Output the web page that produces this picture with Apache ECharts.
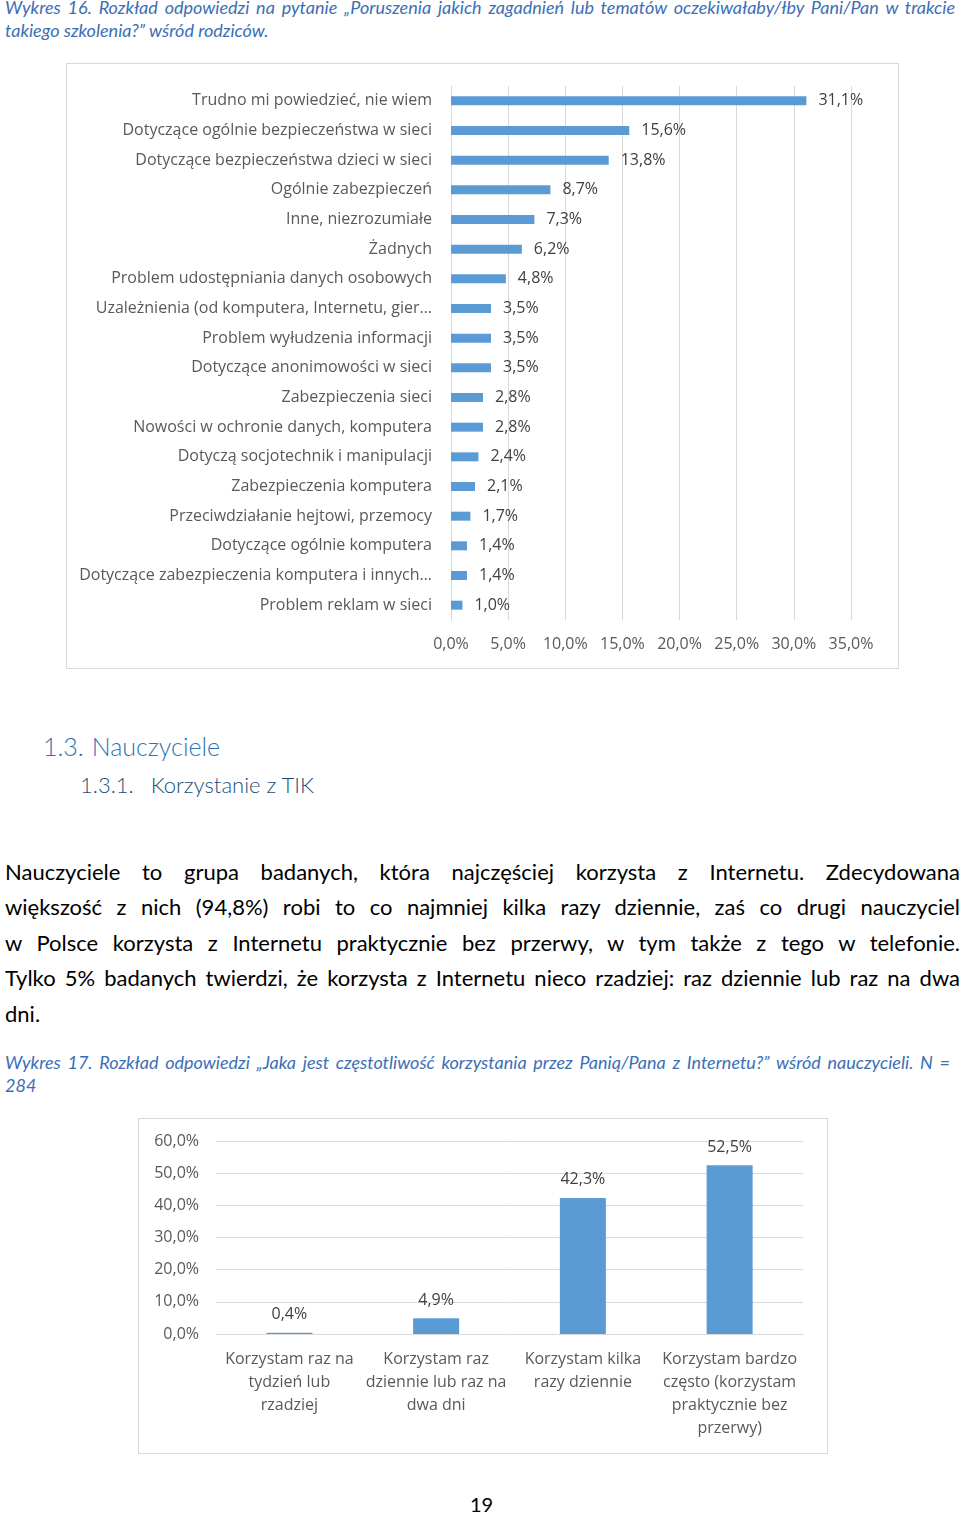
<!DOCTYPE html>
<html><head><meta charset="utf-8">
<script src="https://cdn.jsdelivr.net/npm/echarts@6/dist/echarts.min.js"></script>
<style>
html,body{margin:0;padding:0;background:#fff;width:960px;height:1515px;overflow:hidden;font-family:Lato,"Open Sans",sans-serif;}
.abs{position:absolute;white-space:nowrap;}
.cap{color:#3B6FB6;font-style:italic;font-size:18px;left:5px;}
.jl{left:5px;width:955px;text-align:justify;text-align-last:justify;font-size:22px;color:#000;}
.frame{position:absolute;border:1px solid #D9D9D9;box-sizing:border-box;}
</style></head><body>
<div class="abs cap" style="top:-4px;width:950px;text-align:justify;text-align-last:justify;">Wykres 16. Rozkład odpowiedzi na pytanie „Poruszenia jakich zagadnień lub tematów oczekiwałaby/łby Pani/Pan w  trakcie</div>
<div class="abs cap" style="top:19px;">takiego szkolenia?” wśród rodziców.</div>

<div id="c1" class="frame" style="left:66px;top:63px;width:833px;height:606px;"></div>

<div class="abs" style="left:43px;top:731px;font-size:25px;font-weight:300;color:#2E74B5;">1.3.<span style="display:inline-block;width:8px"></span>Nauczyciele</div>
<div class="abs" style="left:80px;top:771px;font-size:22px;font-weight:300;color:#1F4E79;">1.3.1.<span style="display:inline-block;width:17px"></span>Korzystanie z  TIK</div>

<div class="abs jl" style="top:858px;">Nauczyciele to grupa badanych, która najczęściej korzysta z Internetu. Zdecydowana</div>
<div class="abs jl" style="top:893px;">większość z nich (94,8%) robi to co najmniej kilka razy dziennie, zaś co drugi nauczyciel</div>
<div class="abs jl" style="top:929px;">w Polsce korzysta z Internetu praktycznie bez przerwy, w tym także z tego w telefonie.</div>
<div class="abs jl" style="top:964px;">Tylko 5% badanych twierdzi, że korzysta z  Internetu nieco rzadziej: raz dziennie lub raz na dwa</div>
<div class="abs" style="left:5px;top:1000px;font-size:22px;color:#000;">dni.</div>

<div class="abs cap" style="top:1051px;width:945px;text-align:justify;text-align-last:justify;">Wykres 17. Rozkład odpowiedzi „Jaka jest częstotliwość korzystania przez Panią/Pana z  Internetu?” wśród nauczycieli. N =</div>
<div class="abs cap" style="top:1074px;">284</div>

<div id="c2" class="frame" style="left:138px;top:1118px;width:690px;height:336px;"></div>

<div class="abs" style="left:470px;top:1492px;font-size:20px;color:#000;">19</div>

<script>
const cats1 = ["Trudno mi powiedzieć, nie wiem","Dotyczące ogólnie bezpieczeństwa w sieci","Dotyczące bezpieczeństwa dzieci w sieci","Ogólnie zabezpieczeń","Inne, niezrozumiałe","Żadnych","Problem udostępniania danych osobowych","Uzależnienia (od komputera, Internetu, gier…","Problem wyłudzenia informacji","Dotyczące anonimowości w sieci","Zabezpieczenia sieci","Nowości w ochronie danych, komputera","Dotyczą socjotechnik i manipulacji","Zabezpieczenia komputera","Przeciwdziałanie hejtowi, przemocy","Dotyczące ogólnie komputera","Dotyczące zabezpieczenia komputera i innych…","Problem reklam w sieci"];
const vals1 = [31.1,15.6,13.8,8.7,7.3,6.2,4.8,3.5,3.5,3.5,2.8,2.8,2.4,2.1,1.7,1.4,1.4,1.0];
const ticks1 = {min:0,max:35,interval:5};

const cats2 = ["Korzystam raz na\ntydzień lub\nrzadziej","Korzystam raz\ndziennie lub raz na\ndwa dni","Korzystam kilka\nrazy dziennie","Korzystam bardzo\nczęsto (korzystam\npraktycznie bez\nprzerwy)"];
const vals2 = [0.4,4.9,42.3,52.5];
const ticks2 = {min:0,max:60,interval:10};

const FONT = '"Open Sans", Lato, sans-serif';
const fmt = v => v.toFixed(1).replace('.', ',') + '%';
const BLUE = '#5B9BD5';

const ch1 = echarts.init(document.getElementById('c1'), null, {renderer:'canvas'});
ch1.setOption({
  animation:false,
  grid:{left:384,right:47,top:22,bottom:48,containLabel:false},
  xAxis:{type:'value',min:ticks1.min,max:ticks1.max,interval:ticks1.interval,
    axisLine:{show:false},axisTick:{show:false},
    splitLine:{show:true,lineStyle:{color:'#D9D9D9',width:1}},
    axisLabel:{color:'#595959',fontSize:16,fontFamily:FONT,margin:16,formatter:fmt}},
  yAxis:{type:'category',data:cats1,inverse:true,
    axisLine:{show:true,lineStyle:{color:'#D9D9D9'}},axisTick:{show:false},
    axisLabel:{color:'#595959',fontSize:16,fontFamily:FONT,margin:19}},
  series:[{type:'bar',data:vals1,barWidth:9,itemStyle:{color:BLUE},
    label:{show:true,position:'right',distance:12,color:'#404040',fontSize:16,fontFamily:FONT,formatter:p=>fmt(p.value)}}]
});

const ch2 = echarts.init(document.getElementById('c2'), null, {renderer:'canvas'});
ch2.setOption({
  animation:false,
  grid:{left:77,right:24,top:22,bottom:119,containLabel:false},
  xAxis:{type:'category',data:cats2,
    axisLine:{show:true,lineStyle:{color:'#D9D9D9'}},axisTick:{show:false},
    axisLabel:{color:'#595959',fontSize:16,fontFamily:FONT,margin:14,lineHeight:23,interval:0}},
  yAxis:{type:'value',min:ticks2.min,max:ticks2.max,interval:ticks2.interval,
    axisLine:{show:false},axisTick:{show:false},
    splitLine:{show:true,lineStyle:{color:'#D9D9D9',width:1}},
    axisLabel:{color:'#595959',fontSize:16,fontFamily:FONT,margin:17,formatter:fmt}},
  series:[{type:'bar',data:vals2,barWidth:46,itemStyle:{color:BLUE},
    label:{show:true,position:'top',distance:10,color:'#404040',fontSize:16,fontFamily:FONT,formatter:p=>fmt(p.value)}}]
});
</script>
</body></html>
